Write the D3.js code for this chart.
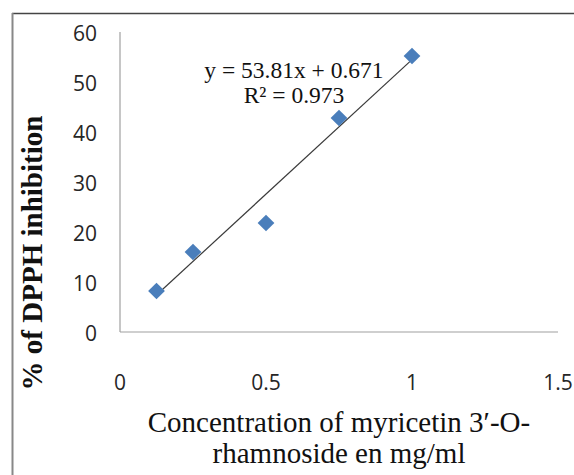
<!DOCTYPE html>
<html>
<head>
<meta charset="utf-8">
<script src="https://cdn.jsdelivr.net/npm/d3@7"></script>
<style>
  body { margin: 0; background: #fff; }
  svg { display: block; }
</style>
</head>
<body>
<svg id="chart" width="574" height="475"></svg>
<script>
// data
const concentrations = [0.125, 0.25, 0.5, 0.75, 1.0];
const inhibition = [8.2, 16.0, 21.8, 42.8, 55.2];
const trend_slope = 53.81;
const trend_intercept = 0.671;
const trend_r2 = 0.973;
const x_ticks = [0, 0.5, 1, 1.5];
const y_ticks = [0, 10, 20, 30, 40, 50, 60];
const x_title_lines = ["Concentration of myricetin 3\u2032-O-", "rhamnoside en mg/ml"];
const y_title = "% of DPPH  inhibition";

const MARKER_COLOR = "#4a7ebb";
const SERIF = "'Liberation Serif', 'Times New Roman', serif";
const SANS = "'Open Sans', 'Liberation Sans', sans-serif";

function draw_chart() {
  let svg = d3.select("#chart");

  // outer frame (top + left only visible)
  svg.append("line")
    .attr("x1", 12).attr("y1", 13.5).attr("x2", 574).attr("y2", 13.5)
    .style("stroke", "#444").style("stroke-width", 1.5);
  svg.append("line")
    .attr("x1", 12.5).attr("y1", 13).attr("x2", 12.5).attr("y2", 475)
    .style("stroke", "#888").style("stroke-width", 2);

  let x = d3.scaleLinear().domain([0, 1.5]).range([120, 558]);
  let y = d3.scaleLinear().domain([0, 60]).range([332, 32]);

  // axis lines
  svg.append("line")
    .attr("x1", x(0)).attr("y1", y(0)).attr("x2", x(1.5)).attr("y2", y(0))
    .style("stroke", "#a0a0a0").style("stroke-width", 1.2);
  svg.append("line")
    .attr("x1", x(0)).attr("y1", y(0)).attr("x2", x(0)).attr("y2", y(60))
    .style("stroke", "#a0a0a0").style("stroke-width", 1.2);

  // y tick labels
  svg.selectAll(".y-tick")
    .data(y_ticks)
    .enter().append("text")
    .attr("class", "y-tick")
    .attr("x", 97)
    .attr("y", (d) => y(d) + 1)
    .attr("dy", "0.36em")
    .attr("text-anchor", "end")
    .style("font-family", SANS)
    .style("font-size", "21px")
    .style("fill", "#262626")
    .text((d) => d);

  // x tick labels (sit well below the axis, as in the original)
  svg.selectAll(".x-tick")
    .data(x_ticks)
    .enter().append("text")
    .attr("class", "x-tick")
    .attr("x", (d) => x(d))
    .attr("y", 382)
    .attr("dy", "0.36em")
    .attr("text-anchor", "middle")
    .style("font-family", SANS)
    .style("font-size", "21px")
    .style("fill", "#262626")
    .text((d) => d);

  // trend line over the data range
  let x_min = d3.min(concentrations);
  let x_max = d3.max(concentrations);
  svg.append("line")
    .attr("x1", x(x_min)).attr("y1", y(trend_slope * x_min + trend_intercept))
    .attr("x2", x(x_max)).attr("y2", y(trend_slope * x_max + trend_intercept))
    .style("stroke", "#3a3a3a").style("stroke-width", 1.2);

  // diamond markers
  let points = concentrations.map((c, i) => [c, inhibition[i]]);
  let diamond = d3.symbol().type(d3.symbolSquare).size(140);
  svg.selectAll(".pt")
    .data(points)
    .enter().append("path")
    .attr("class", "pt")
    .attr("d", diamond)
    .attr("transform", (d) => `translate(${x(d[0])},${y(d[1])}) rotate(45)`)
    .style("fill", MARKER_COLOR);

  // equation label
  let eq = svg.append("text")
    .attr("text-anchor", "middle")
    .style("font-family", SERIF)
    .style("font-size", "23.5px")
    .style("fill", "#111");
  eq.append("tspan").attr("x", 294).attr("y", 78)
    .text(`y = ${trend_slope}x + ${trend_intercept}`);
  eq.append("tspan").attr("x", 294).attr("y", 103)
    .text(`R\u00b2 = ${trend_r2}`);

  // x title
  svg.selectAll(".x-title")
    .data(x_title_lines)
    .enter().append("text")
    .attr("class", "x-title")
    .attr("x", 339)
    .attr("y", (d, i) => 432 + i * 31)
    .attr("text-anchor", "middle")
    .style("font-family", SERIF)
    .style("font-size", "29px")
    .style("fill", "#111")
    .text((d) => d);

  // y title
  svg.append("text")
    .attr("transform", "translate(42,253) rotate(-90)")
    .attr("text-anchor", "middle")
    .style("font-family", SERIF)
    .style("font-size", "29px")
    .style("font-weight", "bold")
    .style("fill", "#111")
    .text(y_title);
}

draw_chart();
</script>
</body>
</html>
